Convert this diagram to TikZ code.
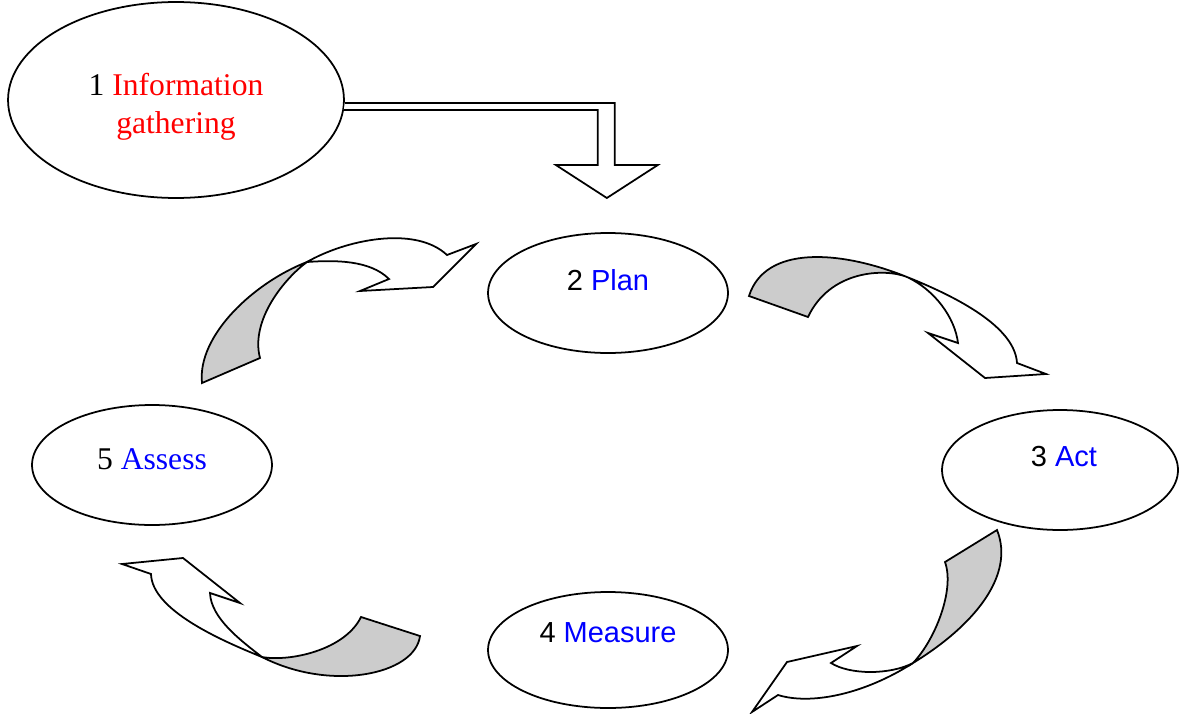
\documentclass[tikz,border=0pt]{standalone}
\usepackage{fontspec}
\setmainfont{Liberation Serif}
\setsansfont{Liberation Sans}
\usetikzlibrary{shapes.geometric}

\begin{document}
\begin{tikzpicture}[x=0.02cm,y=-0.02cm,line width=1pt,
  el/.style={draw,ellipse,inner sep=0pt,minimum width=4.8cm,minimum height=2.4cm},
  rm/.style={font=\fontsize{18}{21.5}\selectfont,align=center},
  sf/.style={font=\sffamily\fontsize{16.5}{20}\selectfont},
  bk/.style={draw,fill=black!20},fr/.style={draw,fill=white}]
\useasboundingbox (0,0) rectangle (1179,713);
\node[el,minimum width=6.72cm,minimum height=3.92cm](e1) at (176,100){};
\node[el](e2) at (608,293){};
\node[el,minimum width=4.72cm](e3) at (1060,470){};
\node[el,minimum height=2.32cm](e4) at (608,650){};
\node[el](e5) at (152,465){};
\node[rm](t1) at (176,107){1 \textcolor{red}{Information}\\\textcolor{red}{gathering}};
\node[sf](t2) at (608,280){2 \textcolor{blue}{Plan}};
\node[sf](t3) at (1064,457){3 \textcolor{blue}{Act}};
\node[sf](t4) at (608,633){4 \textcolor{blue}{Measure}};
\node[rm](t5) at (152,459){5 \textcolor{blue}{Assess}};
% double arrow from 1 down to 2
\draw[fill=white] (e1.east) ++(0,3) -- ++(270,0) -- ++(0,62) -- ++(43,0) -- ++(-51,33)
  -- ++(-51,-33) -- ++(42,0) -- ++(0,-55) -- ++(-254,0);
% 5 -> 2
\draw[bk] (202,383) .. controls (197,335) and (255,282) .. (307,262)
  .. controls (285,278) and (250,320) .. (260,358) -- cycle;
\draw[fr] (307,262) .. controls (345,240) and (415,225) .. (447,255) -- (476,244) -- (433,287)
  -- (360,291) -- (389,279) .. controls (370,260) and (335,260) .. (307,262) -- cycle;
% 2 -> 3
\draw[bk] (749,296) .. controls (765,245) and (840,250) .. (907,277)
  .. controls (885,268) and (830,270) .. (808,317) -- cycle;
\draw[fr] (907,277) .. controls (967,301) and (1015,330) .. (1017,363) -- (1046,374) -- (985,378)
  -- (928,333) -- (958,343) .. controls (955,318) and (935,290) .. (907,277) -- cycle;
% 3 -> 4
\draw[bk] (997,530) .. controls (1015,575) and (975,625) .. (913,663)
  .. controls (935,640) and (955,590) .. (945,562) -- cycle;
\draw[fr] (913,663) .. controls (863,695) and (810,705) .. (778,695) -- (752,712) -- (787,662)
  -- (857,646) -- (831,663) .. controls (850,675) and (890,675) .. (913,663) -- cycle;
% 4 -> 5
\draw[bk] (420,636) .. controls (415,675) and (330,692) .. (262,657)
  .. controls (290,662) and (345,650) .. (361,617) -- cycle;
\draw[fr] (262,657) .. controls (220,640) and (152,610) .. (151,574) -- (122,564) -- (183,558)
  -- (240,603) -- (210,593) .. controls (211,618) and (240,640) .. (262,657) -- cycle;
\end{tikzpicture}
\end{document}
